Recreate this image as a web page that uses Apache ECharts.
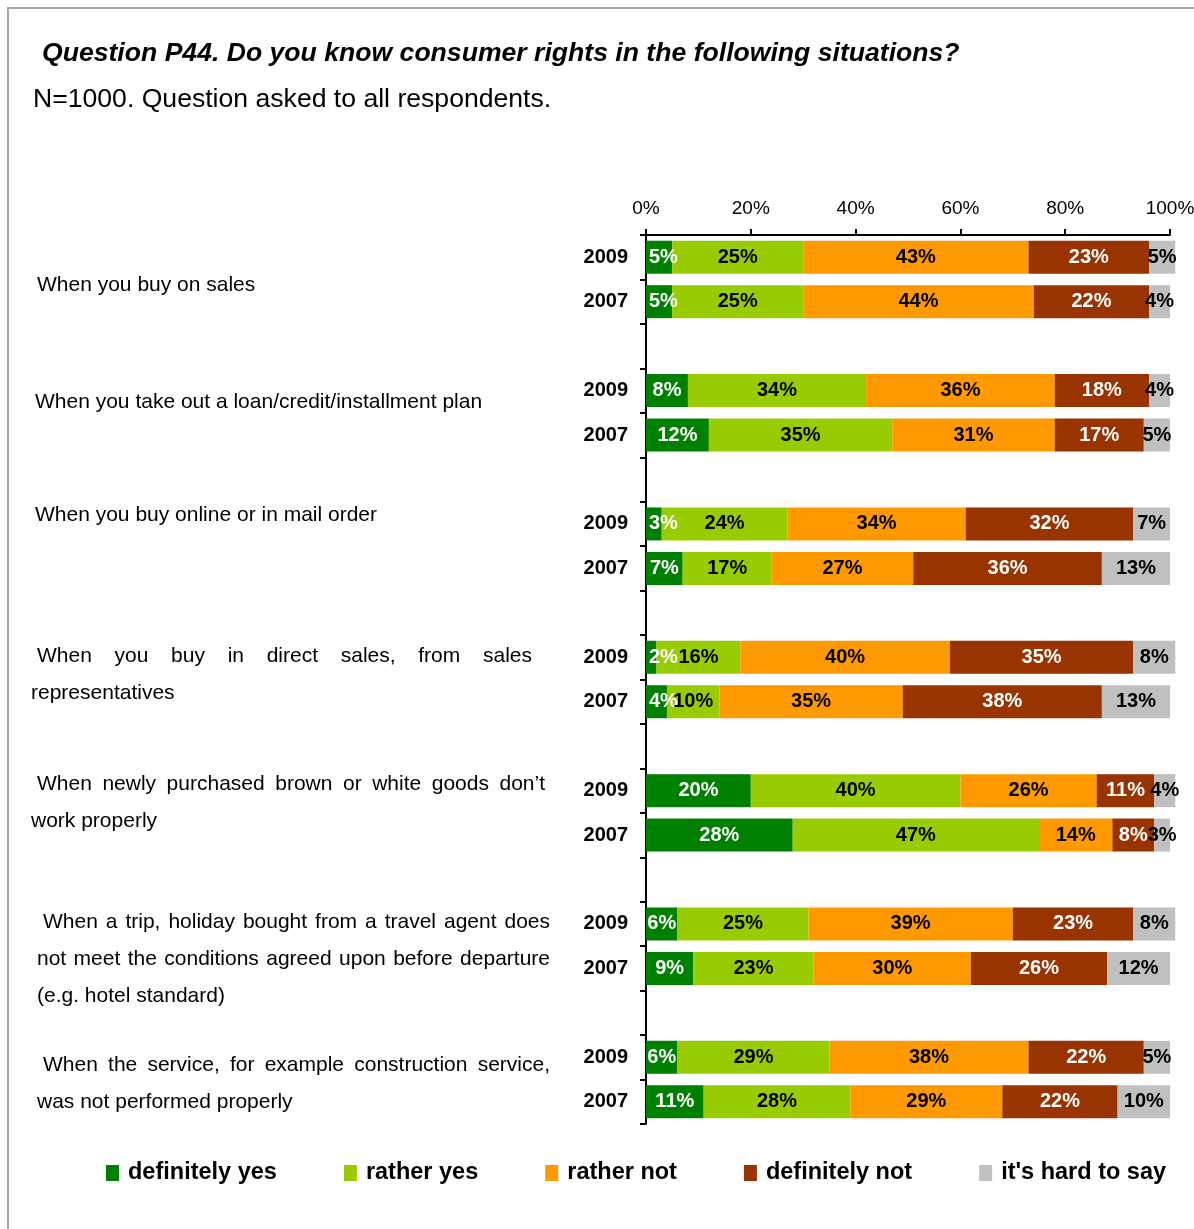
<!DOCTYPE html>
<html>
<head>
<meta charset="utf-8">
<script src="https://cdn.jsdelivr.net/npm/echarts@6/dist/echarts.min.js"></script>
<style>
  html, body { margin: 0; padding: 0; background: #fff; }
  #chart { width: 1194px; height: 1229px; }
</style>
</head>
<body>
<div id="chart"></div>
<script>
// Situations asked about (line breaks as printed in the row captions)
const situations = [
  'When you buy on sales',
  'When you take out a loan/credit/installment plan',
  'When you buy online or in mail order',
  'When you buy in direct sales, from sales\nrepresentatives',
  'When newly purchased brown or white goods don\u2019t\nwork properly',
  'When a trip, holiday bought from a travel agent does\nnot meet the conditions agreed upon before departure\n(e.g. hotel standard)',
  'When the service, for example construction service,\nwas not performed properly'
];
const years = ['2009', '2007'];
const answers = ['definitely yes', 'rather yes', 'rather not', 'definitely not', "it's hard to say"];

// Share of answers in % per situation, as [2009, 2007]
const definitelyYes = [[5, 5], [8, 12], [3, 7], [2, 4], [20, 28], [6, 9], [6, 11]];
const ratherYes     = [[25, 25], [34, 35], [24, 17], [16, 10], [40, 47], [25, 23], [29, 28]];
const ratherNot     = [[43, 44], [36, 31], [34, 27], [40, 35], [26, 14], [39, 30], [38, 29]];
const definitelyNot = [[23, 22], [18, 17], [32, 36], [35, 38], [11, 8], [23, 26], [22, 22]];
const hardToSay     = [[5, 4], [4, 5], [7, 13], [8, 13], [4, 3], [8, 12], [5, 10]];

const answerValues = [definitelyYes, ratherYes, ratherNot, definitelyNot, hardToSay];
const colors = ['#008000', '#99CC00', '#FF9900', '#993300', '#C0C0C0'];
const labelColors = ['#fff', '#000', '#000', '#fff', '#000'];

const FAMILY = '"Liberation Sans", Arial, Helvetica, sans-serif';

// Row keys: 2009 and 2007 for every situation, with a spacer row between situations
const rowKeys = [];
const rowRef = []; // [situation, yearIndex] or null for spacer
situations.forEach((s, g) => {
  years.forEach((y, k) => { rowKeys.push(g + '|' + y); rowRef.push([g, k]); });
  if (g < situations.length - 1) { rowKeys.push(g + '|'); rowRef.push(null); }
});

const series = answers.map((name, i) => ({
  name,
  type: 'bar',
  stack: 'total',
  barWidth: 33,
  clip: false,
  itemStyle: { color: colors[i] },
  label: {
    show: true,
    position: 'inside',
    formatter: '{c}%',
    fontFamily: FAMILY,
    fontSize: 20,
    fontWeight: 'bold',
    color: labelColors[i]
  },
  data: rowRef.map(r => {
    if (!r) return '-';
    const v = answerValues[i][r[0]][r[1]];
    // thin first segments: start the label at the axis instead of centring it
    if (i === 0 && v < 6) return { value: v, label: { position: 'insideLeft', distance: 3 } };
    return v;
  })
}));

const chart = echarts.init(document.getElementById('chart'), null, { renderer: 'canvas' });

const option = {
  animation: false,
  backgroundColor: '#fff',
  textStyle: { fontFamily: FAMILY },
  title: [
    {
      text: 'Question P44. Do you know consumer rights in the following situations?',
      left: 37, top: 35,
      textStyle: { fontFamily: FAMILY, fontSize: 26.6, fontWeight: 'bold', fontStyle: 'italic', color: '#000' }
    },
    {
      text: 'N=1000. Question asked to all respondents.',
      left: 28, top: 81,
      textStyle: { fontFamily: FAMILY, fontSize: 26.6, fontWeight: 'normal', color: '#000' }
    }
  ],
  grid: { left: 646, right: 24, top: 235, height: 889, containLabel: false, outerBoundsMode: 'none' },
  xAxis: {
    type: 'value',
    position: 'top',
    min: 0, max: 100, interval: 20,
    axisLine: { show: true, lineStyle: { color: '#000', width: 2 } },
    axisTick: { show: true, length: 6, lineStyle: { color: '#000', width: 2 } },
    splitLine: { show: false },
    axisLabel: { formatter: '{value}%', fontFamily: FAMILY, fontSize: 19, color: '#000', margin: 17 }
  },
  yAxis: {
    type: 'category',
    inverse: true,
    data: rowKeys,
    axisLine: { show: true, lineStyle: { color: '#000', width: 2 } },
    axisTick: { show: true, length: 6, lineStyle: { color: '#000', width: 2 } },
    axisLabel: {
      interval: 0,
      formatter: v => v.split('|')[1],
      fontFamily: FAMILY, fontSize: 20, fontWeight: 'bold', color: '#000', margin: 18
    }
  },
  legend: {
    data: answers,
    left: 101, top: 1156,
    padding: 5,
    icon: 'rect',
    itemWidth: 13, itemHeight: 16,
    itemGap: 67,
    textStyle: { fontFamily: FAMILY, fontSize: 23.5, fontWeight: 'bold', color: '#000', padding: [0, 0, 0, 4] }
  },
  graphic: [{
    type: 'rect',
    shape: { x: 8, y: 8, width: 1300, height: 1400 },
    style: { fill: 'none', stroke: '#A6A6A6', lineWidth: 2 },
    silent: true
  }],
  series
};

chart.setOption(option);

// Row captions on the left, placed beside each situation's pair of bars
const CAPTION_FONT = '21px ' + FAMILY;
const captionX = [37, 35, 35, 37, 37, 43, 43];      // first line start
const captionRight = [0, 0, 0, 532, 545, 550, 550]; // justified edge
const captionShift = [6, -11, -31, -23, -29, -24, -14];
const LINE_H = 37;

const ctx = document.createElement('canvas').getContext('2d');
ctx.font = CAPTION_FONT;

const captionEls = [];
situations.forEach((s, g) => {
  const i0 = rowKeys.indexOf(g + '|' + years[0]);
  const i1 = rowKeys.indexOf(g + '|' + years[1]);
  const yc = (chart.convertToPixel({ yAxisIndex: 0 }, i0) + chart.convertToPixel({ yAxisIndex: 0 }, i1)) / 2;
  const lines = s.split('\n');
  lines.forEach((line, li) => {
    const y = yc + captionShift[g] + li * LINE_H;
    const x0 = li === 0 ? captionX[g] : captionX[g] - 6;
    const justify = li < lines.length - 1;
    if (!justify) {
      captionEls.push({ type: 'text', x: x0, y, silent: true,
        style: { text: line, font: CAPTION_FONT, fill: '#000', verticalAlign: 'middle', align: 'left' } });
      return;
    }
    const words = line.split(' ');
    const widths = words.map(w => ctx.measureText(w).width);
    const total = widths.reduce((a, b) => a + b, 0);
    const gap = (captionRight[g] - x0 - total) / (words.length - 1);
    let x = x0;
    words.forEach((w, wi) => {
      captionEls.push({ type: 'text', x, y, silent: true,
        style: { text: w, font: CAPTION_FONT, fill: '#000', verticalAlign: 'middle', align: 'left' } });
      x += widths[wi] + gap;
    });
  });
});

chart.setOption({
  graphic: [option.graphic[0]].concat(captionEls)
});
</script>
</body>
</html>
